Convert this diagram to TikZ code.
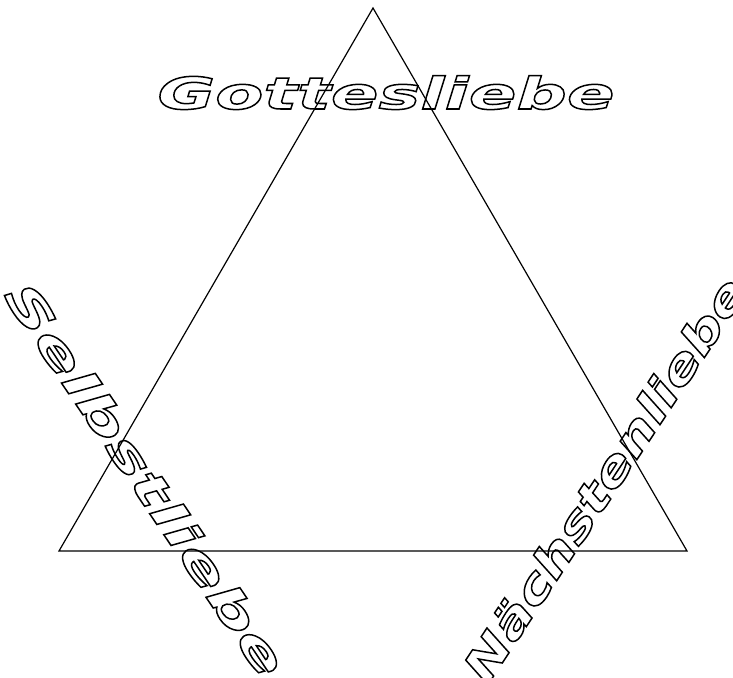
\documentclass[tikz,border=0pt]{standalone}
\usepackage{fontspec}
\newfontfamily\gfont{DejaVu Sans Bold Oblique}[FakeStretch=1.6]
\newfontfamily\sfontx{DejaVu Sans Bold Oblique}[FakeStretch=1.68]
\newfontfamily\nfont{DejaVu Sans Bold Oblique}[FakeStretch=1.34]
\newcommand{\outl}[1]{\special{pdf:literal direct 1 Tr 1.5 w}#1\special{pdf:literal direct 0 Tr}}
\tikzset{
  word/.style={inner sep=0pt, font=\fontsize{44}{44}\selectfont},
  edge/.style={draw=black, line width=1.2pt, line join=miter}
}
\begin{document}
\begin{tikzpicture}[x=1pt,y=-1pt]
\useasboundingbox (0,0) rectangle (733,677);
\coordinate (top) at (373,8);
\coordinate (bl) at (59,551);
\coordinate (br) at (687,551);
\draw[edge] (top) -- (br) -- (bl) -- cycle;
\node[word, anchor=base] (gott) at (386,109) {\gfont\outl{Gottesliebe}};
\node[word, rotate=-56] (selbst) at (146,479) {\sfontx\outl{Selbstliebe}};
\node[word, rotate=56.5] (naechst) at (604,479) {\nfont\outl{Nächstenliebe}};
\end{tikzpicture}
\end{document}
